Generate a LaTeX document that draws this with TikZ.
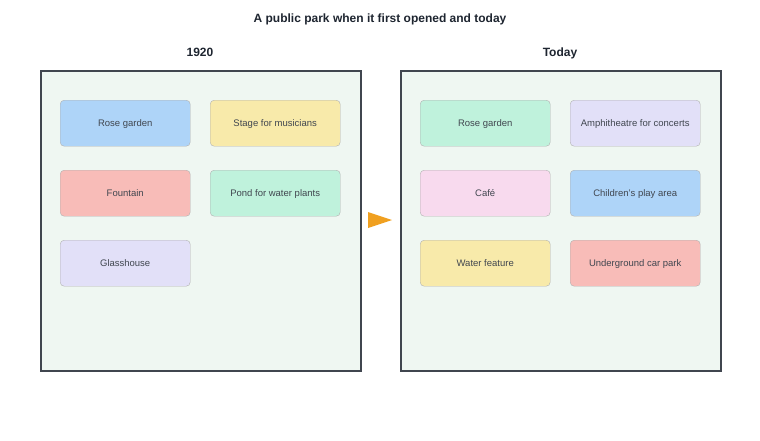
\documentclass[tikz,border=0pt]{standalone}
\usepackage{fontspec}
\setmainfont{Liberation Sans}
\definecolor{panelbg}{HTML}{EFF7F2}
\definecolor{ink}{HTML}{1E2530}
\definecolor{cblue}{HTML}{AED4F8}
\definecolor{cyellow}{HTML}{F8EAAA}
\definecolor{cred}{HTML}{F8BCB8}
\definecolor{cgreen}{HTML}{BFF2DC}
\definecolor{clav}{HTML}{E2E0F8}
\definecolor{cpink}{HTML}{F8DAEE}
\definecolor{corange}{HTML}{F0A020}
\tikzset{
    panel/.style={draw=ink!85, fill=panelbg, line width=1.5pt, minimum width=320pt, minimum height=300pt, anchor=north west},
    item/.style={draw=black!30, rounded corners=4pt, minimum width=130pt, minimum height=46pt, text height=1.6ex, text depth=0.4ex, font=\fontsize{9.5}{11}\selectfont, text=ink!85, anchor=north west},
    head/.style={font=\bfseries\fontsize{12}{14}\selectfont, text=ink, text height=1.6ex, text depth=0.4ex},
}
\begin{document}
\begin{tikzpicture}[x=1pt, y=-1pt]
    \useasboundingbox (0,0) rectangle (760,440);
    \node[head] (title) at (380,19) {A public park when it first opened and today};
    \node[head] (then) at (200,53) {1920};
    \node[head] (now) at (560,53) {Today};
    \node[panel] (left) at (40,70) {};
    \node[panel] (right) at (400,70) {};
    % 1920
    \node[item, fill=cblue] (l1) at (60,100) {Rose garden};
    \node[item, fill=cyellow] (l2) at (210,100) {Stage for musicians};
    \node[item, fill=cred] (l3) at (60,170) {Fountain};
    \node[item, fill=cgreen] (l4) at (210,170) {Pond for water plants};
    \node[item, fill=clav] (l5) at (60,240) {Glasshouse};
    % today
    \node[item, fill=cgreen] (r1) at (420,100) {Rose garden};
    \node[item, fill=clav] (r2) at (570,100) {Amphitheatre for concerts};
    \node[item, fill=cpink] (r3) at (420,170) {Café};
    \node[item, fill=cblue] (r4) at (570,170) {Children's play area};
    \node[item, fill=cyellow] (r5) at (420,240) {Water feature};
    \node[item, fill=cred] (r6) at (570,240) {Underground car park};
    \fill[corange] (368,212) -- (392,220) -- (368,228) -- cycle;
\end{tikzpicture}
\end{document}
